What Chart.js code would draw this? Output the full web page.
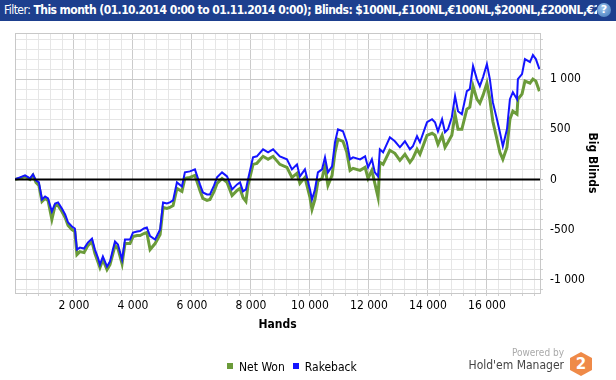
<!DOCTYPE html>
<html>
<head>
<meta charset="utf-8">
<script src="https://cdn.jsdelivr.net/npm/chart.js@4"></script>
<style>
  html, body { margin: 0; padding: 0; background: #fff; }
  body { width: 616px; height: 380px; position: relative; overflow: hidden; font-family: "DejaVu Sans Condensed", "DejaVu Sans", sans-serif; }
  #bar { position: absolute; left: 0; top: 0; width: 616px; height: 21px; background: #1d3f8e; }
  #filter { position: absolute; left: 4px; top: 3px; width: 593px; overflow: hidden; white-space: nowrap; color: #fff; font-size: 12px; font-weight: bold; letter-spacing: -0.55px; }
  #filter span { font-weight: normal; }
  #help { position: absolute; left: 597px; top: 3px; width: 14px; height: 14px; border-radius: 50%; background: radial-gradient(circle at 40% 35%, #9cc4ee, #3f76b8); color: #fff; font: bold 11px "DejaVu Sans"; text-align: center; line-height: 14px; }
  #chart { position: absolute; left: 0; top: 0; }
  #legend { position: absolute; left: 227px; top: 360px; font: 12px "DejaVu Sans Condensed", "DejaVu Sans", sans-serif; color: #000; white-space: nowrap; }
  #legend i { display: inline-block; width: 6px; height: 6px; margin-right: 6px; vertical-align: 2px; }
  #legend b { font-weight: normal; margin-right: 8px; }
  #powered { position: absolute; right: 52px; top: 347px; font: 10px "DejaVu Sans Condensed", "DejaVu Sans", sans-serif; color: #aaa; text-align: right; }
  #hm { position: absolute; right: 52px; top: 358px; font: 12px "DejaVu Sans Condensed", "DejaVu Sans", sans-serif; color: #444; text-align: right; white-space: nowrap; }
  #logo { position: absolute; left: 570px; top: 352px; width: 22px; height: 24px; background: #ef8a48; clip-path: polygon(50% 0, 100% 25%, 100% 75%, 50% 100%, 0 75%, 0 25%); color: #fff; font: bold 15px "DejaVu Sans"; text-align: center; line-height: 24px; }
</style>
</head>
<body>
<canvas id="chart" width="616" height="380"></canvas>
<div id="bar"><div id="filter"><span>Filter:</span> This month (01.10.2014 0:00 to 01.11.2014 0:00); Blinds: $100NL,£100NL,€100NL,$200NL,£200NL,€200NL;</div><div id="help">?</div></div>
<div id="legend"><i style="background:#6b9b3a"></i><b>Net Won</b><i style="background:#1414ff"></i>Rakeback</div>
<div id="powered">Powered by</div>
<div id="hm">Hold'em Manager</div>
<div id="logo">2</div>
<script>
const hands = [0, 170, 340, 510, 610, 710, 810, 915, 1020, 1120, 1250, 1360, 1460, 1590, 1700, 1800, 1930, 2030, 2100, 2200,
  2340, 2470, 2610, 2710, 2810, 2880, 2980, 3120, 3220, 3320, 3390, 3490, 3630, 3730, 3900, 4000, 4140, 4240, 4370, 4470,
  4580, 4750, 4920, 5020, 5150, 5250, 5360, 5490, 5660, 5760, 5930, 6100, 6270, 6370, 6510, 6610, 6750, 6850, 7020, 7190,
  7360, 7530, 7630, 7730, 7830, 7900, 8070, 8200, 8410, 8580, 8750, 8980, 9220, 9390, 9560, 9660, 9830, 10000, 10070, 10170,
  10270, 10410, 10510, 10610, 10750, 10850, 10950, 11120, 11250, 11360, 11460, 11700, 11870, 11970, 12100, 12200, 12310, 12370, 12480, 12710,
  12880, 13050, 13220, 13390, 13490, 13630, 13730, 13970, 14140, 14240, 14340, 14480, 14580, 14680, 14810, 14920, 15020, 15150, 15320, 15420,
  15530, 15660, 15760, 15870, 16000, 16100, 16200, 16340, 16440, 16540, 16680, 16780, 16880, 17020, 17050, 17190, 17290, 17460, 17560, 17660, 17780];

const rakeback = [0, 20, 40, 10, 50, -10, -30, -200, -170, -190, -320, -240, -230, -290, -350, -430, -470, -490, -700, -680,
  -690, -630, -590, -700, -780, -850, -770, -870, -820, -700, -620, -650, -800, -600, -600, -530, -520, -515, -490, -480,
  -565, -600, -500, -230, -240, -230, -210, -30, -70, 70, 80, 100, -50, -130, -150, -150, -60, 20, 70, 30,
  -100, -50, -30, -120, -100, 0, 220, 230, 300, 270, 300, 230, 200, 100, 150, 30, 100, -100, -200, -100,
  70, 100, 220, 70, 130, 370, 500, 480, 370, 200, 220, 200, 230, 120, 200, 70, 30, 300, 270, 420,
  380, 320, 380, 300, 330, 430, 370, 570, 600, 570, 480, 600, 470, 500, 620, 830, 680, 650, 880, 900,
  1130, 1000, 930, 1020, 1150, 1000, 770, 600, 470, 330, 500, 800, 870, 800, 1000, 1050, 1200, 1170, 1240, 1200, 1100];

const netWon = [0, 10, 30, 0, 40, -30, -60, -220, -190, -210, -400, -260, -260, -320, -380, -460, -500, -520, -750, -720,
  -730, -660, -620, -740, -820, -880, -800, -900, -850, -740, -660, -690, -840, -640, -640, -570, -560, -560, -540, -530,
  -700, -640, -550, -280, -290, -280, -260, -90, -120, 10, 20, 40, -110, -190, -210, -200, -120, -40, 10, -30,
  -160, -110, -90, -180, -220, -60, 150, 160, 230, 200, 230, 150, 120, 20, 60, -40, 20, -180, -300, -200,
  -20, 10, 130, -60, 40, 270, 400, 380, 270, 90, 110, 90, 120, 10, 90, -40, -180, 170, 150, 290,
  260, 190, 250, 170, 210, 300, 250, 440, 460, 440, 350, 440, 320, 370, 440, 650, 500, 500, 700, 720,
  930, 800, 760, 840, 960, 800, 580, 400, 270, 200, 320, 600, 680, 650, 800, 850, 980, 960, 1000, 980, 880];

const yTicks = [-1100, -1000, -900, -800, -700, -600, -500, -400, -300, -200, -100, 0, 100, 200, 300, 400, 500, 600, 700, 800, 900, 1000, 1100, 1200, 1300, 1400];

const fmt = v => {
  const s = String(Math.abs(v)).replace(/\B(?=(\d{3})+(?!\d))/g, ' ');
  return (v < 0 ? '-' : '') + s;
};

const tickFont = { family: "'DejaVu Sans Condensed', 'DejaVu Sans', sans-serif", size: 12 };
const titleFont = { family: "'DejaVu Sans Condensed', 'DejaVu Sans', sans-serif", size: 12, weight: 'bold' };

// light grey frame round the plot area, black zero line on top of the grid
const frame = {
  id: 'frame',
  beforeDatasetsDraw(chart) {
    const a = chart.chartArea, c = chart.ctx;
    c.save();
    c.strokeStyle = '#c8c8c8';
    c.lineWidth = 1;
    c.strokeRect(Math.round(a.left) + 0.5, Math.round(a.top) + 0.5, Math.round(a.right - a.left), Math.round(a.bottom - a.top));
    c.restore();
  },
  afterDatasetsDraw(chart) {
    const a = chart.chartArea, c = chart.ctx, y = chart.scales.y.getPixelForValue(0);
    c.save();
    c.strokeStyle = '#000';
    c.lineWidth = 2;
    c.beginPath();
    c.moveTo(a.left, y);
    c.lineTo(a.right, y);
    c.stroke();
    c.restore();
  }
};

new Chart(document.getElementById('chart'), {
  type: 'line',
  data: {
    datasets: [
      {
        label: 'Net Won',
        data: hands.map((h, i) => ({ x: h, y: netWon[i] })),
        borderColor: '#6b9b3a',
        borderWidth: 3,
        order: 1
      },
      {
        label: 'Rakeback',
        data: hands.map((h, i) => ({ x: h, y: rakeback[i] })),
        borderColor: '#1414ff',
        borderWidth: 2,
        order: 0
      }
    ]
  },
  options: {
    responsive: false,
    animation: false,
    events: [],
    elements: { point: { radius: 0 }, line: { tension: 0 } },
    layout: { padding: { left: 15, top: 33, right: 17, bottom: 48 } },
    plugins: { legend: { display: false }, tooltip: { enabled: false } },
    scales: {
      x: {
        type: 'linear',
        min: 0,
        max: 17800,
        afterBuildTicks: s => { s.ticks = []; for (let v = 400; v <= 17600; v += 400) s.ticks.push({ value: v }); },
        afterFit: s => { s.height = 39; },
        grid: {
          color: c => (c.tick && c.tick.value % 2000 === 0) ? '#cbcbcb' : '#e6e6e6',
          tickLength: 3,
          tickColor: '#d0d0d0'
        },
        border: { display: false },
        ticks: {
          autoSkip: false,
          maxRotation: 0,
          padding: 3,
          color: '#000',
          font: tickFont,
          callback: v => v % 2000 === 0 ? fmt(v) : ''
        },
        title: { display: true, text: 'Hands', color: '#000', font: titleFont, padding: 0 }
      },
      y: {
        position: 'right',
        min: -1133,
        max: 1460,
        afterBuildTicks: s => { s.ticks = yTicks.map(v => ({ value: v })); },
        afterFit: s => { s.width = 59; },
        grid: {
          color: c => (c.tick && c.tick.value % 500 === 0) ? '#cbcbcb' : '#e6e6e6',
          tickLength: 3,
          tickColor: '#d0d0d0'
        },
        border: { display: false },
        ticks: {
          autoSkip: false,
          padding: 7,
          color: '#000',
          font: tickFont,
          callback: v => v % 500 === 0 ? fmt(v) : ''
        },
        title: { display: true, text: 'Big Blinds', color: '#000', font: titleFont, padding: 0 }
      }
    }
  },
  plugins: [frame]
});
</script>
</body>
</html>
